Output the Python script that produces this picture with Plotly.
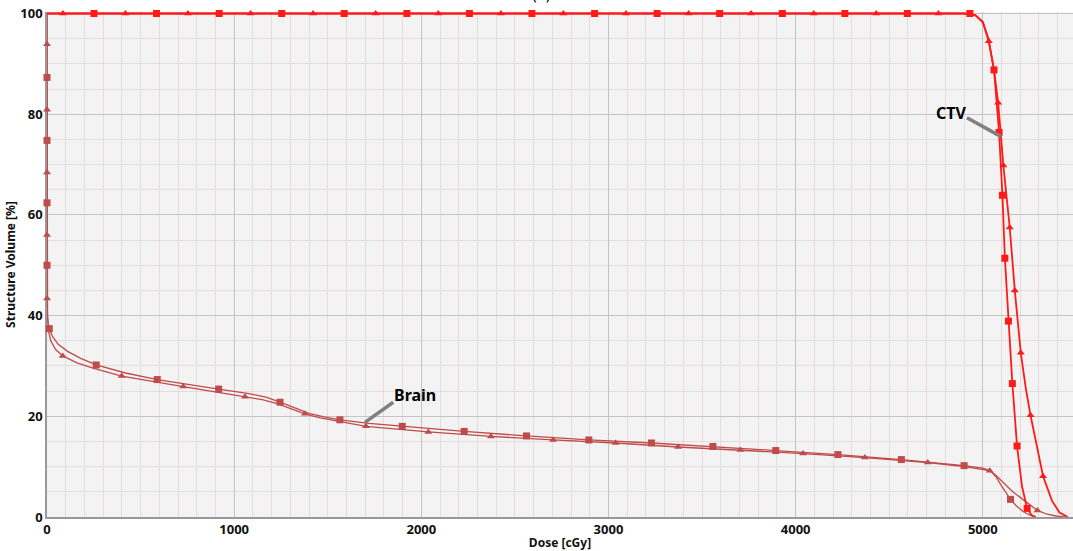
import plotly.graph_objects as go

# ---------------- data ----------------
# CTV, square series (curve)
ctv_sq_dose = [0, 4900, 4960, 5000, 5030, 5060, 5087, 5105, 5118, 5137, 5158, 5183, 5210, 5237, 5260, 5283]
ctv_sq_vol = [100, 100, 99.7, 98.3, 95.0, 88.8, 76.4, 63.9, 51.4, 38.9, 26.5, 14.1, 6.0, 1.7, 0.4, 0]
# CTV, triangle series (curve)
ctv_tr_dose = [0, 4900, 4960, 5000, 5032, 5060, 5082, 5110, 5144, 5171, 5203, 5230, 5255, 5290, 5322, 5370, 5410, 5454]
ctv_tr_vol = [100, 100, 99.7, 98.3, 94.5, 88.8, 82.3, 69.8, 57.5, 45.0, 32.6, 25.5, 20.2, 13.5, 8.1, 3.2, 0.9, 0]
# CTV markers
ctv_sq_mk_dose = [251, 585, 920, 1254, 1588, 1923, 2257, 2591, 2926, 3260, 3594, 3929, 4263, 4597, 4931,
                  5060, 5087, 5105, 5118, 5137, 5158, 5183, 5237]
ctv_sq_mk_vol = [100] * 15 + [88.8, 76.4, 63.9, 51.4, 38.9, 26.5, 14.1, 1.7]
ctv_tr_mk_dose = [85, 419, 753, 1088, 1422, 1756, 2091, 2425, 2759, 3094, 3428, 3762, 4097, 4431, 4763,
                  5032, 5082, 5110, 5144, 5171, 5203, 5255, 5322]
ctv_tr_mk_vol = [100] * 15 + [94.5, 82.3, 69.8, 57.5, 45.0, 32.6, 20.2, 8.1]

# Brain, square series (curve)
br_sq_dose = [0, 0, 2, 6, 12, 30, 60, 110, 180, 263, 420, 589, 750, 917, 1080, 1170, 1245, 1330, 1400, 1480,
              1565, 1720, 1898, 2229, 2562, 2895, 3230, 3558, 3894, 4226, 4565, 4900, 5000, 5040, 5070,
              5100, 5125, 5148, 5180, 5215, 5250, 5278]
br_sq_vol = [100, 45, 40.5, 38.5, 37.4, 35.8, 34.3, 32.9, 31.5, 30.2, 28.6, 27.3, 26.3, 25.4, 24.5, 23.8,
             22.8, 21.6, 20.6, 19.9, 19.3, 18.6, 18.0, 17.0, 16.1, 15.3, 14.7, 14.0, 13.2, 12.4, 11.4,
             10.2, 9.7, 9.2, 8.0, 6.2, 4.7, 3.5, 2.2, 1.1, 0.4, 0]
# Brain, triangle series (curve)
br_tr_dose = [0, 0, 3, 8, 20, 45, 84, 160, 250, 399, 560, 728, 890, 1058, 1150, 1230, 1300, 1378, 1460,
              1540, 1704, 2037, 2372, 2704, 3038, 3372, 3705, 4040, 4370, 4706, 4900, 5037, 5070, 5110,
              5160, 5200, 5233, 5292, 5340, 5390, 5440]
br_tr_vol = [100, 45, 39.5, 37.0, 35.0, 33.3, 32.0, 30.6, 29.5, 28.0, 26.9, 25.9, 24.9, 23.9, 23.3, 22.5,
             21.5, 20.5, 19.7, 19.1, 18.0, 16.9, 16.0, 15.3, 14.7, 13.9, 13.3, 12.6, 11.8, 10.8, 10.0,
             9.2, 8.3, 6.9, 5.0, 3.9, 3.0, 1.3, 0.6, 0.2, 0]
# Brain markers
br_sq_mk_dose = [0, 0, 0, 0, 12, 263, 589, 917, 1245, 1565, 1898, 2229, 2562, 2895, 3230, 3558, 3894,
                 4226, 4565, 4900, 5148]
br_sq_mk_vol = [87.3, 74.8, 62.4, 50.0, 37.4, 30.2, 27.3, 25.4, 22.8, 19.3, 18.0, 17.0, 16.1, 15.3, 14.7,
                14.0, 13.2, 12.4, 11.4, 10.2, 3.5]
br_tr_mk_dose = [0, 0, 0, 0, 0, 84, 399, 728, 1058, 1378, 1704, 2037, 2372, 2704, 3038, 3372, 3705, 4040,
                 4370, 4706, 5037, 5292]
br_tr_mk_vol = [93.9, 80.9, 68.4, 56.0, 43.4, 32.0, 28.0, 25.9, 23.9, 20.5, 18.0, 16.9, 16.0, 15.3, 14.7,
                13.9, 13.3, 12.6, 11.8, 10.8, 9.2, 1.3]

x_ticks = [0, 1000, 2000, 3000, 4000, 5000]
y_ticks = [0, 20, 40, 60, 80, 100]

CTV_COLOR = "#ff1a1a"
BRAIN_COLOR = "#bf4b4b"

fig = go.Figure()

def add_line(x, y, color, width):
    fig.add_trace(go.Scatter(x=x, y=y, mode="lines", line=dict(color=color, width=width),
                             showlegend=False, hoverinfo="skip", cliponaxis=False))

def add_markers(x, y, color, symbol, size):
    fig.add_trace(go.Scatter(x=x, y=y, mode="markers", cliponaxis=False,
                             marker=dict(color=color, symbol=symbol, size=size, line=dict(width=0)),
                             showlegend=False, hoverinfo="skip"))

add_line(br_sq_dose, br_sq_vol, BRAIN_COLOR, 1.3)
add_line(br_tr_dose, br_tr_vol, BRAIN_COLOR, 1.3)
add_line(ctv_sq_dose, ctv_sq_vol, CTV_COLOR, 1.8)
add_line(ctv_tr_dose, ctv_tr_vol, CTV_COLOR, 1.8)
add_markers(br_sq_mk_dose, br_sq_mk_vol, BRAIN_COLOR, "square", 7)
add_markers(br_tr_mk_dose, br_tr_mk_vol, BRAIN_COLOR, "triangle-up", 7)
add_markers(ctv_sq_mk_dose, ctv_sq_mk_vol, CTV_COLOR, "square", 7)
add_markers(ctv_tr_mk_dose, ctv_tr_mk_vol, CTV_COLOR, "triangle-up", 7)

tick_font = dict(family="Noto Sans", size=13, color="#111111", weight="bold")
title_font = dict(family="Noto Sans", size=12, color="#111111", weight="bold")

fig.update_layout(
    width=1073, height=551,
    margin=dict(l=47, r=0, t=12, b=34),
    paper_bgcolor="white",
    plot_bgcolor="#f4f3f3",
    xaxis=dict(
        range=[0, 5482], tickvals=x_ticks, ticktext=[str(v) for v in x_ticks],
        showgrid=True, gridcolor="#c4c4c4", gridwidth=1,
        minor=dict(dtick=100, showgrid=True, gridcolor="#e6dcdc", gridwidth=1),
        showline=True, linecolor="#999999", linewidth=1.5, layer="below traces",
        zeroline=False, ticks="", tickfont=tick_font,
        title=dict(text="Dose [cGy]", font=title_font, standoff=4),
    ),
    yaxis=dict(
        range=[0, 100.3], tickvals=y_ticks, ticktext=[str(v) for v in y_ticks],
        showgrid=True, gridcolor="#c4c4c4", gridwidth=1,
        minor=dict(dtick=5, showgrid=True, gridcolor="#e6dcdc", gridwidth=1),
        showline=True, linecolor="#999999", linewidth=1.5, layer="below traces",
        zeroline=False, ticks="", tickfont=tick_font,
        title=dict(text="Structure Volume [%]", font=title_font, standoff=2),
    ),
)

# pointer lines for the labels
fig.add_shape(type="line", x0=4915, y0=79.3, x1=5096, y1=75.6,
              line=dict(color="#808080", width=3.5))
fig.add_shape(type="line", x0=1699, y0=18.8, x1=1850, y1=22.8,
              line=dict(color="#808080", width=3.5))

label_font = dict(family="Noto Sans", size=16, color="#000000", weight="bold")
fig.add_annotation(x=4834, y=80.3, text="CTV", showarrow=False, font=label_font,
                   xanchor="center", yanchor="middle")
fig.add_annotation(x=1966, y=24.2, text="Brain", showarrow=False, font=label_font,
                   xanchor="center", yanchor="middle")
# panel label at the top, cut off by the page edge as in the reference
fig.add_annotation(xref="paper", yref="paper", x=(541 - 47) / (1073 - 47), y=1 + 18 / 505,
                   yanchor="middle", text="(a)", showarrow=False,
                   font=dict(family="Noto Sans", size=16, color="#000000"))

fig.write_html("out.html")
